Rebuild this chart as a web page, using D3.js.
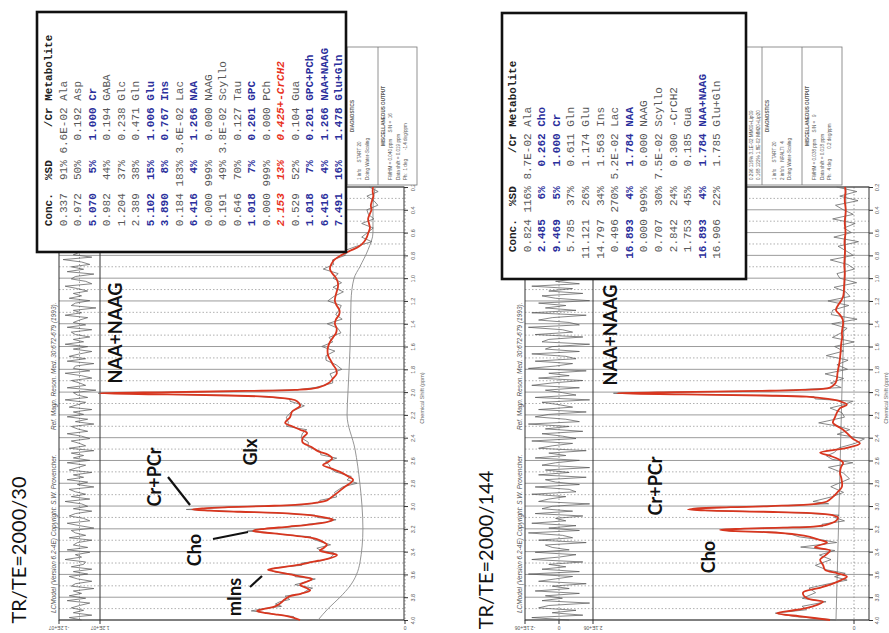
<!DOCTYPE html>
<html>
<head>
<meta charset="utf-8">
<script src="https://cdn.jsdelivr.net/npm/d3@7/dist/d3.min.js"></script>
<style>
  body { margin: 0; background: #fff; }
  svg text { font-family: "Liberation Sans", Arial, sans-serif; }
</style>
</head>
<body>
<svg id="chart" width="889" height="633"></svg>
<script>
// ppm grid and tick labels
var ppmMajor = [0.2,0.4,0.6,0.8,1.0,1.2,1.4,1.6,1.8,2.0,2.2,2.4,2.6,2.8,3.0,3.2,3.4,3.6,3.8,4.0];
var ppmMinor = [0.3,0.5,0.7,0.9,1.1,1.3,1.5,1.7,1.9,2.1,2.3,2.5,2.7,2.9,3.1,3.3,3.5,3.7,3.9];

// ---- TR/TE = 2000/30 ----
var fitPpmL = [0.20,0.24,0.28,0.32,0.36,0.40,0.44,0.48,0.52,0.56,0.60,0.64,0.68,0.72,0.76,0.80,0.84,0.88,0.92,0.96,
  1.00,1.04,1.08,1.12,1.16,1.20,1.24,1.28,1.32,1.36,1.40,1.44,1.48,1.52,1.56,1.60,1.64,1.68,1.72,1.76,
  1.80,1.84,1.88,1.92,1.96,1.98,1.99,2.00,2.01,2.02,2.03,2.04,2.06,2.08,2.12,2.17,2.22,2.27,2.30,2.33,
  2.36,2.40,2.44,2.48,2.52,2.55,2.58,2.61,2.64,2.67,2.70,2.74,2.77,2.80,2.83,2.88,2.92,2.95,2.97,2.99,
  3.00,3.01,3.02,3.03,3.04,3.05,3.06,3.08,3.10,3.12,3.14,3.16,3.18,3.20,3.21,3.22,3.23,3.25,3.27,3.29,
  3.32,3.34,3.37,3.39,3.41,3.43,3.46,3.48,3.50,3.52,3.54,3.56,3.58,3.60,3.62,3.64,3.67,3.69,3.72,3.74,
  3.77,3.79,3.82,3.84,3.86,3.88,3.90,3.92,3.94,3.95,3.97,4.00];
var fitAmpL = [10.5,10.6,10.4,10.8,11.2,11.0,11.6,12.1,11.8,11.5,12.0,12.5,13.4,15.0,18.0,21.0,23.2,24.2,24.6,23.8,
  22.6,22.0,22.0,22.4,22.8,23.0,22.4,21.5,21.6,22.6,23.0,22.4,22.6,23.6,24.6,25.2,25.4,25.2,24.4,23.6,
  22.6,22.4,23.6,25.0,28.5,36,52,76,100,78,58,46,38,35.4,34.4,37,37.7,39.3,37,34.4,
  32.1,33.5,33.6,30.8,28.4,25.2,23.9,25.0,26.9,24.3,21.3,18.6,17.0,18.0,19.7,22.0,24.0,25.6,29,36,
  46,58,66,69.8,64,54,42,31.1,26.5,23.6,25.5,30.5,38,46,49,49.8,47,39.3,33,28.9,
  26.5,25.6,26.8,27.9,25.2,22.3,24.8,28.5,32,36.1,41,44.9,41.5,37.7,33.8,30.5,32.8,34.4,32.3,31.1,
  34.2,37.7,39.5,40.3,41.2,42.6,45.8,48.5,45.5,42.6,38,34.4];
// data minus fit at the fit points
var devL = [1.2,-1.8,2.1,-0.6,-2.3,1.5,0.4,-1.9,2.4,-1.1,0.3,1.7,-2.5,0.9,2.0,-1.4,0.6,-0.8,2.2,-1.9,
  1.0,-1.2,1.6,-2.2,0.5,2.3,-1.5,0.1,1.1,-2.0,2.5,-0.4,-1.6,1.3,-0.9,2.1,-2.4,0.7,1.5,-1.0,
  -1.9,2.2,0.2,-1.3,1.0,-0.5,1.8,-1.8,0.6,1.4,-2.6,1.1,-0.3,2.3,-1.4,0.2,1.2,-1.1,1.9,-2.2,
  1.5,0.6,-1.9,1.0,-0.7,2.4,-1.5,1.0,-2.1,0.1,1.6,-1.0,2.0,-2.3,0.6,1.1,-1.6,2.3,-0.5,-1.9,
  1.4,0.1,-1.0,1.9,-2.7,0.9,0.5,-1.5,2.3,-1.0,0.2,1.5,-2.0,1.0,-0.6,1.9,-1.3,0.8,-2.2,1.3,
  0.4,-1.2,2.1,-0.4,-1.8,1.2,0.1,-1.0,1.8,-2.3,1.4,-0.6,0.9,-1.6,2.2,-1.1,0.3,1.7,-2.0,1.0,
  -0.3,1.6,-1.7,0.8,1.3,-2.1,0.6,1.9,-1.2,0.4,-1.5,1.1];
var basePpmL = [0.2,0.4,0.6,0.75,0.9,1.0,1.2,1.6,2.0,2.2,2.5,2.8,3.2,3.5,3.7,3.8,3.9,4.0];
var baseAmpL = [9.8,10.5,10.5,12.1,14.8,16.7,17.7,18,18.7,19,16.4,14.8,13.8,14.8,18,21.3,25.2,28.5];
// residual panel, evenly spaced from 0.2 to 4.0 ppm
var resL = [3,-5,6,-2,-7,4,1,-6,7,-3,0,5,-8,2,6,-4,2,-2,7,-5,3,-3,5,-6,1,7,-4,0,3,-6,
  8,-1,-5,4,-2,6,-7,2,4,-3,-6,7,1,-4,3,-1,5,-5,2,4,-8,3,-1,7,-4,0,3,-3,6,-6,
  4,2,-5,3,-2,7,-4,3,-6,0,5,-3,6,-7,2,3,-5,7,-1,-6,4,0,-3,6,-8,3,1,-4,7,-3,
  1,5,-6,3,-2,6,-4,2,-7,4,1,-4,6,-1,-5,4,0,-3,5,-7,4,-2,3,-5,6,-3,1,5,-6,3,
  -2,6,-4,1,-7,5,2,-3,4,-5,7,-1,-4,3,-6,2,5,-2,-5,6,0,-7,4,2,-3,5,-6,1,3,-4,
  6,-5,2,-1,7,-3,-2,4,-6,3,-4,5,1,-6,2,4,-7,3,-1,5,-3,6,-5,0,4,-2,3,-6,5,-1];
var concL = ["0.337","0.972","5.070","0.982","1.204","2.389","5.102","3.890","0.184","6.416","0.000","0.191","0.646","1.018","0.000","2.153","0.529","1.018","6.416","7.491"];
var sdL = ["91%","50%","5%","44%","37%","38%","15%","8%","183%","4%","999%","49%","70%","7%","999%","13%","52%","7%","4%","16%"];
var ratioL = ["6.6E-02","0.192","1.000","0.194","0.238","0.471","1.006","0.767","3.6E-02","1.266","0.000","3.8E-02","0.127","0.201","0.000","0.425+","0.104","0.201","1.266","1.478"];
var metabL = ["Ala","Asp","Cr","GABA","Glc","Gln","Glu","Ins","Lac","NAA","NAAG","Scyllo","Tau","GPC","PCh","-CrCH2","Gua","GPC+PCh","NAA+NAAG","Glu+Gln"];
var blueL = ["Cr","Glu","Ins","NAA","GPC","GPC+PCh","NAA+NAAG","Glu+Gln"];
var diagL = [["DIAGNOSTICS","1 info     START 20","Doing Water-Scaling"],
  ["MISCELLANEOUS OUTPUT","FWHM = 0.040 ppm     S/N =  16","Data shift = 0.019 ppm","Ph:  1 deg       -1.4 deg/ppm"]];

// ---- TR/TE = 2000/144 ----
var fitPpmR = [0.20,0.24,0.28,0.32,0.36,0.40,0.44,0.48,0.52,0.56,0.60,0.64,0.68,0.72,0.76,0.80,0.84,0.88,0.92,0.96,
  1.00,1.04,1.08,1.12,1.16,1.20,1.24,1.28,1.32,1.36,1.40,1.44,1.48,1.52,1.56,1.60,1.64,1.68,1.72,1.76,
  1.80,1.84,1.88,1.92,1.96,1.98,1.99,2.00,2.01,2.02,2.03,2.04,2.06,2.08,2.11,2.14,2.18,2.22,2.27,2.30,
  2.33,2.37,2.41,2.45,2.49,2.53,2.56,2.59,2.62,2.66,2.71,2.76,2.83,2.88,2.92,2.96,2.98,3.00,3.01,3.02,
  3.03,3.04,3.05,3.06,3.08,3.10,3.13,3.16,3.18,3.19,3.20,3.21,3.22,3.23,3.25,3.27,3.30,3.32,3.36,3.39,
  3.43,3.47,3.52,3.56,3.59,3.62,3.65,3.68,3.72,3.76,3.81,3.84,3.88,3.91,3.94,3.97,4.00];
var fitAmpR = [3.8,3.6,3.8,3.9,3.7,3.5,3.6,3.8,3.9,3.7,3.6,3.8,4.0,3.9,3.8,3.9,4.0,4.1,4.0,3.9,
  4.0,4.1,4.2,4.3,4.6,5.5,6.8,7.6,6.0,4.8,4.6,4.9,5.1,5.0,5.3,5.5,5.6,5.8,6.0,6.3,
  6.7,7.0,7.2,7.8,10.1,22,40,75,100,72,38,20,11,6,3.0,5.9,7.2,8.0,8.9,7.0,
  4.6,2.5,0.5,-2.5,3.0,14.3,10.0,6.5,4.6,5.5,5.9,5.3,5.1,7.0,8.9,11.4,16,35,52,66,
  70,60,38,20,9,6.8,7.6,11,17,30,48,56.5,50,36,24,18.6,14,11.4,16.5,10.1,
  12,14.3,13,12.2,7,3.0,5.5,8.9,15,21.5,19.8,13.1,17.3,24,32.5,21.5,10.1];
var devR = [3.5,-4.8,2.2,-5.6,4.1,1.0,-3.3,5.2,-4.4,0.6,-2.5,4.7,-5.9,2.8,-0.4,-3.6,6.0,-1.5,-4.2,3.3,
  2.0,-5.2,4.2,-0.8,-2.9,5.5,-4.6,1.4,3.6,-6.1,4.8,-2.0,0.3,4.1,-5.3,2.7,-1.2,5.9,-3.5,0.9,
  -4.0,5.2,-2.8,2.1,-4.7,3.4,-2.0,3.0,1.5,-2.5,2.8,-3.2,5.4,-5.5,1.3,4.2,-2.1,-4.0,6.0,-0.6,
  -2.8,4.6,-4.9,2.0,3.5,-6.0,1.6,2.7,-4.1,5.3,-1.4,-3.4,4.7,-2.6,0.7,5.9,-5.3,2.1,-1.0,2.0,
  -1.5,2.2,-1.8,3.0,-2.7,1.4,-3.6,2.5,-3.8,4.0,1.2,-2.0,2.5,-3.2,2.1,4.6,-1.3,-4.1,6.0,-2.0,
  2.6,-4.6,3.3,-0.7,-3.3,5.2,-2.6,1.3,4.0,-5.3,2.0,-1.3,4.6,-4.0,0.7,3.3,-2.5];
var basePpmR = [0.2,1.0,2.0,3.0,4.0];
var baseAmpR = [3.4,3.8,5.1,6.3,7.6];
var resR = [5,-7,3,-9,6,2,-4,8,-6,1,-3,7,-8,4,0,-5,9,-2,-6,5,3,-8,6,-1,-4,8,-7,2,5,-9,
  7,-3,0,6,-8,4,-2,9,-5,1,-6,8,-4,3,-7,5,1,-9,6,-2,4,-5,8,-8,2,6,-3,-6,9,-1,
  -4,7,-7,3,5,-9,2,4,-6,8,-2,-5,7,-4,1,9,-8,3,-3,6,-7,2,8,-6,4,-1,-5,7,-9,5,
  0,-4,6,-8,3,7,-2,-6,9,-3,4,-7,5,-1,-5,8,-4,2,6,-8,3,-2,7,-6,1,5,-9,4,-3,6,
  -8,4,1,-6,7,-3,-5,8,-2,3,6,-9,2,5,-4,7,-7,1,-2,8,-5,3,-6,9,-1,-4,6,-8,4,2,
  -3,7,-5,0,8,-7,3,-2,5,-6,9,-4,1,6,-8,2,-3,7,-6,4,-1,5,-9,3,6,-5,2,-7,8,-3];
var concR = ["0.824","2.485","9.469","5.785","11.121","14.797","0.496","16.893","0.000","0.707","2.842","1.753","16.893","16.906"];
var sdR = ["116%","6%","5%","37%","26%","34%","270%","4%","999%","30%","24%","45%","4%","22%"];
var ratioR = ["8.7E-02","0.262","1.000","0.611","1.174","1.563","5.2E-02","1.784","0.000","7.5E-02","0.300","0.185","1.784","1.785"];
var metabR = ["Ala","Cho","Cr","Gln","Glu","Ins","Lac","NAA","NAAG","Scyllo","-CrCH2","Gua","NAA+NAAG","Glu+Gln"];
var blueR = ["Cho","Cr","NAA","NAA+NAAG"];
var diagR = [["0.296 116% 3.1E-02 MM09+Lip09","0.168 122% 1.8E-02 MM20+Lip20"],
  ["DIAGNOSTICS","1 info     START 20","2 info's   NPALTI  4","Doing Water-Scaling"],
  ["MISCELLANEOUS OUTPUT","FWHM = 0.038 ppm     S/N =   9","Data shift = 0.018 ppm","Ph:  4 deg        0.2 deg/ppm"]];

var header = ["Conc.", "%SD", "/Cr", "Metabolite"];
var copyright = "LCModel (Version 6.2-4E) Copyright: S.W. Provencher.";
var reference = "Ref. Magn. Reson. Med. 30:672-679 (1993).";

var svg = d3.select("#chart");
var RED = "#d8361f";

function lp(s, n) { s = String(s); while (s.length < n) s = " " + s; return s; }
function rowText(c, sd, r, m) {
  var plus = r.slice(-1) === "+";
  return lp(c, 8) + lp(sd, 5) + lp(plus ? r.slice(0, -1) : r, 8) + (plus ? "+" : " ") + m;
}
function vtext(g, x, y, s) {
  return g.append("text").attr("transform", "translate(" + x + "," + y + ") rotate(-90)")
    .attr("dominant-baseline", "central").text(s);
}

function panel(o) {
  var g = svg.append("g");
  var y = d3.scaleLinear().domain([4.0, 0.2]).range([620, 187]);
  var x = d3.scaleLinear().domain([0, 100]).range([o.zeroX, o.fullX]);
  var rx = d3.scaleLinear().domain([-10, 10]).range([o.boxR, o.boxL]);
  var ri = d3.scaleLinear().domain([0, o.res.length - 1]).range([0.2, 4.0]);

  // grid lines across residual and spectrum panes
  g.selectAll(null).data(ppmMajor).enter().append("line")
    .attr("x1", o.boxL).attr("x2", o.axisX)
    .attr("y1", function(d) { return y(d); }).attr("y2", function(d) { return y(d); })
    .attr("stroke", "#9c9c9c").attr("stroke-width", 1);
  g.selectAll(null).data(ppmMinor).enter().append("line")
    .attr("x1", o.boxL).attr("x2", o.axisX)
    .attr("y1", function(d) { return y(d); }).attr("y2", function(d) { return y(d); })
    .attr("stroke", "#9c9c9c").attr("stroke-width", 0.8).attr("stroke-dasharray", "1.5,2");
  [rx(0), x(0)].forEach(function(v) {
    g.append("line").attr("x1", v).attr("x2", v).attr("y1", 187).attr("y2", 620)
      .attr("stroke", "#888").attr("stroke-width", 0.8).attr("stroke-dasharray", "1.5,2");
  });

  // frame
  g.append("rect").attr("x", o.boxL).attr("y", 187).attr("width", o.axisX - o.boxL).attr("height", 433)
    .attr("fill", "none").attr("stroke", "#333").attr("stroke-width", 1);
  g.append("line").attr("x1", o.boxR).attr("x2", o.boxR).attr("y1", 187).attr("y2", 620)
    .attr("stroke", "#333").attr("stroke-width", 1);

  // ppm axis
  var ax = g.append("g").attr("transform", "translate(" + o.axisX + ",0)")
    .call(d3.axisRight(y).tickValues(ppmMajor).tickSize(4).tickFormat(d3.format(".1f")));
  ax.select(".domain").remove();
  ax.selectAll("line").attr("stroke", "#333");
  ax.selectAll("text").attr("x", null).attr("dy", null)
    .attr("transform", "translate(" + o.tickOff + ",0) rotate(-90)")
    .attr("text-anchor", "middle").attr("dominant-baseline", "central")
    .attr("fill", "#555").style("font-size", "5.5px");
  vtext(g, o.axisX + o.tickOff + 9, 398, "Chemical Shift (ppm)")
    .attr("text-anchor", "middle").attr("fill", "#666").style("font-size", "5.5px");

  // amplitude ticks along the bottom (upside down labels)
  o.ampTicks.forEach(function(t) {
    var tx = t[0] === "r" ? rx(t[1]) : x(t[1]);
    g.append("line").attr("x1", tx).attr("x2", tx).attr("y1", 620).attr("y2", 624).attr("stroke", "#333");
    g.append("text").attr("transform", "translate(" + tx + ",628) rotate(180)")
      .attr("text-anchor", "middle").attr("dominant-baseline", "central")
      .attr("fill", "#555").style("font-size", "5px").text(t[2]);
  });

  // spectrum: baseline, data, fit
  var line = d3.line().x(function(d) { return x(d[1]); }).y(function(d) { return y(d[0]); });
  var base = o.basePpm.map(function(p, i) { return [p, o.baseAmp[i]]; });
  var fit = o.fitPpm.map(function(p, i) { return [p, o.fitAmp[i]]; });
  var dat = o.fitPpm.map(function(p, i) { return [p, o.fitAmp[i] + (o.dev[i] || 0)]; });
  g.append("path").attr("d", d3.line().curve(d3.curveMonotoneY)
      .x(function(d) { return x(d[1]); }).y(function(d) { return y(d[0]); })(base))
    .attr("fill", "none").attr("stroke", "#8a8a8a").attr("stroke-width", 0.9);
  g.append("path").attr("d", line(dat)).attr("fill", "none").attr("stroke", "#6a6a6a").attr("stroke-width", 0.8);
  g.append("path").attr("d", line.curve(d3.curveCatmullRom)(fit)).attr("fill", "none")
    .attr("stroke", RED).attr("stroke-width", 1.8);

  // residual
  g.append("path").attr("d", d3.line()
      .x(function(d) { return rx(d); }).y(function(d, i) { return y(ri(i)); })(o.res))
    .attr("fill", "none").attr("stroke", "#555").attr("stroke-width", 0.7);

  // header line
  vtext(g, o.boxL - 6, 613, copyright).attr("text-anchor", "start")
    .attr("fill", "#555").style("font-size", "6.5px").style("font-style", "italic");
  vtext(g, o.boxL - 6, 430, reference).attr("text-anchor", "start")
    .attr("fill", "#555").style("font-size", "6.5px").style("font-style", "italic");

  // peak labels
  o.labels.forEach(function(l) {
    vtext(g, l[1], l[2], l[0]).attr("text-anchor", "middle")
      .style("font-family", "Lato, 'Open Sans', sans-serif").style("font-weight", "700")
      .style("font-size", "18px").attr("fill", "#111");
  });
  o.leaders.forEach(function(s) {
    g.append("line").attr("x1", s[0]).attr("y1", s[1]).attr("x2", s[2]).attr("y2", s[3])
      .attr("stroke", "#111").attr("stroke-width", 2.2);
  });

  // title
  vtext(g, o.titleX, 550, o.title).attr("text-anchor", "middle")
    .style("font-family", "Lato, 'Open Sans', sans-serif").style("font-size", "20px").attr("fill", "#111");

  // diagnostics boxes
  var db = g.append("g");
  db.append("rect").attr("x", o.diag.x0).attr("y", 47).attr("width", o.diag.x1 - o.diag.x0).attr("height", 138)
    .attr("fill", "#fff").attr("stroke", "#777").attr("stroke-width", 0.8);
  o.diag.cols.forEach(function(c, ci) {
    if (ci > 0) db.append("line").attr("x1", c).attr("x2", c).attr("y1", 47).attr("y2", 185)
      .attr("stroke", "#777").attr("stroke-width", 0.8);
    o.diagText[ci].forEach(function(s, k) {
      var title = k === 0 && /[A-Z]{5}/.test(s);
      var t = vtext(db, c + 5 + k * 7.5, title ? 116 : 180, s)
        .attr("fill", "#555").style("font-size", "4.6px").style("white-space", "pre");
      if (title) t.attr("text-anchor", "middle").style("font-weight", "700");
    });
  });

  // results table
  var tb = g.append("g");
  tb.append("rect").attr("x", o.table.x0).attr("y", o.table.y0)
    .attr("width", o.table.x1 - o.table.x0).attr("height", o.table.y1 - o.table.y0)
    .attr("fill", "#fff").attr("stroke", "#111").attr("stroke-width", 2.6);
  var rows = [lp(header[0], 8) + lp(header[1], 5) + lp(header[2], 8) + " " + header[3]]
    .concat(o.metab.map(function(m, i) { return rowText(o.conc[i], o.sd[i], o.ratio[i], m); }));
  rows.forEach(function(s, i) {
    var m = i === 0 ? null : o.metab[i - 1];
    var t = vtext(tb, o.table.rowX0 + i * o.table.step, o.table.startY, s)
      .attr("xml:space", "preserve").style("white-space", "pre")
      .style("font-family", "'Liberation Mono', monospace").style("font-size", "11px")
      .attr("fill", "#585858");
    if (i === 0) t.attr("fill", "#222").style("font-weight", "700");
    else if (o.ratio[i - 1].slice(-1) === "+") t.attr("fill", "#e8321e").style("font-weight", "700").style("font-style", "italic");
    else if (o.blue.indexOf(m) >= 0) t.attr("fill", "#2b2f9c").style("font-weight", "700");
  });
}

panel({
  title: "TR/TE=2000/30", titleX: 18,
  boxL: 59, boxR: 100, axisX: 404, zeroX: 405, fullX: 100, tickOff: 9,
  fitPpm: fitPpmL, fitAmp: fitAmpL, dev: devL, basePpm: basePpmL, baseAmp: baseAmpL, res: resL,
  ampTicks: [["r", 10, "-1.2E+07"], ["r", -10, "1.2E+07"], ["s", 0, "0"]],
  labels: [["NAA+NAAG", 115, 333], ["Cr+PCr", 154, 477], ["Cho", 194, 550], ["mIns", 234, 597], ["Glx", 250, 452]],
  leaders: [[168, 477, 190, 505], [213, 539, 248, 532], [250, 587, 262, 576]],
  diag: { x0: 347, x1: 417, cols: [347, 378] }, diagText: diagL,
  table: { x0: 37, x1: 346, y0: 12, y1: 252, rowX0: 49, step: 14.5, startY: 246 },
  conc: concL, sd: sdL, ratio: ratioL, metab: metabL, blue: blueL
});

panel({
  title: "TR/TE=2000/144", titleX: 485,
  boxL: 525, boxR: 593, axisX: 869, zeroX: 854, fullX: 617, tickOff: 8,
  fitPpm: fitPpmR, fitAmp: fitAmpR, dev: devR, basePpm: basePpmR, baseAmp: baseAmpR, res: resR,
  ampTicks: [["r", 10, "-2.1E+06"], ["r", 0, "0"], ["r", -10, "2.1E+06"], ["s", 0, "0"]],
  labels: [["NAA+NAAG", 610, 335], ["Cr+PCr", 655, 486], ["Cho", 708, 557]],
  leaders: [],
  diag: { x0: 746, x1: 842, cols: [746, 762, 802] }, diagText: diagR,
  table: { x0: 502, x1: 746, y0: 13, y1: 279, rowX0: 513, step: 14.6, startY: 272 },
  conc: concR, sd: sdR, ratio: ratioR, metab: metabR, blue: blueR
});
</script>
</body>
</html>
